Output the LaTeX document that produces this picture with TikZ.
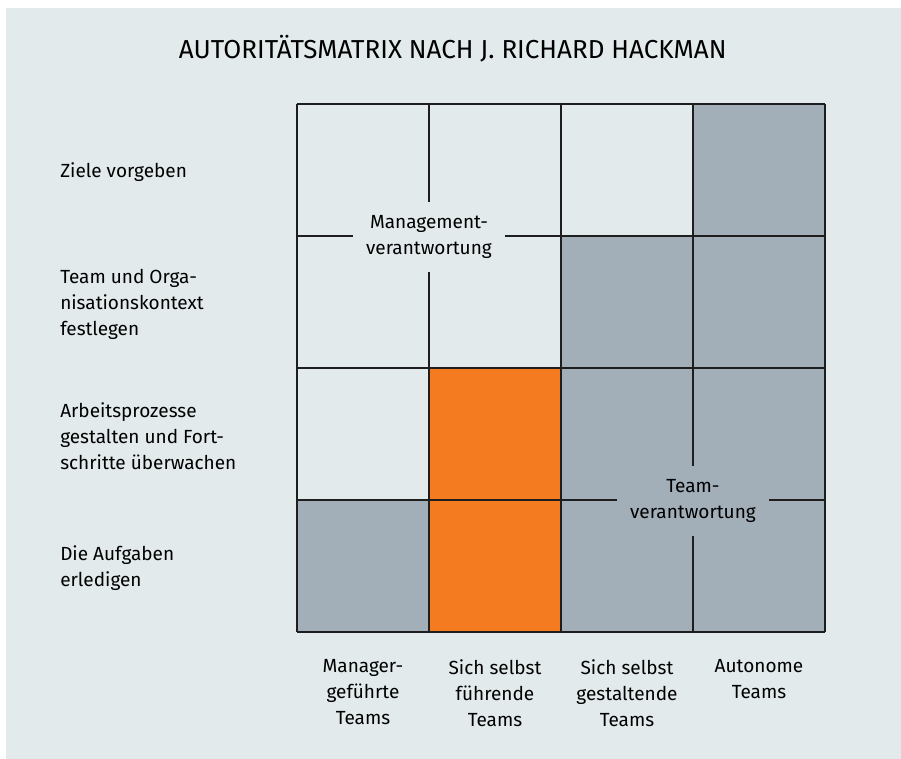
\documentclass[tikz,border=0pt]{standalone}
\usepackage{fontspec}
\setmainfont{Fira Sans}
\usetikzlibrary{positioning}
\definecolor{hkpanel}{RGB}{226, 234, 236}
\definecolor{hkgray}{RGB}{162, 174, 184}
\definecolor{hkorange}{RGB}{244, 123, 32}
\definecolor{hkline}{RGB}{30, 30, 30}
\tikzset{
    gridline/.style={draw=hkline, line width=1.5pt},
    titlelabel/.style={anchor=base, inner sep=0pt, font=\fontsize{26}{32}\selectfont},
    rowlabel/.style={anchor=west, align=left, inner sep=0pt, font=\fontsize{19}{26}\selectfont},
    collabel/.style={anchor=north, align=center, inner sep=0pt, font=\fontsize{19}{26}\selectfont},
    zonelabel/.style={align=center, inner sep=0pt, fill=#1, minimum width=152pt, minimum height=70pt, font=\fontsize{19}{26}\selectfont}
}

\begin{document}
\begin{tikzpicture}[x=132pt, y=132pt]
    \useasboundingbox (-2.25,-0.955) rectangle (4.576,4.788);
    \fill[hkpanel] (-2.205,-1.1) rectangle (4.7,4.727);

    % matrix cells, column/row counted from bottom left
    \foreach \c/\r in {3/3, 2/2, 3/2, 2/1, 3/1, 0/0, 2/0, 3/0}
        \fill[hkgray] (\c,\r) rectangle ++(1,1);
    \foreach \r in {0, 1}
        \fill[hkorange] (1,\r) rectangle ++(1,1);
    \draw[gridline] (0,0) grid[step=1] (4,4);

    \node[titlelabel] (title) at (1.18,4.341) {AUTORITÄTSMATRIX NACH J.~RICHARD HACKMAN};

    % zones on top of the grid lines
    \node[zonelabel=hkpanel] (mgmt) at (1,2.99) {Management-\\verantwortung};
    \node[zonelabel=hkgray] (team) at (3,0.99) {Team-\\verantwortung};

    % rows
    \node[rowlabel] (ziele) at (-1.795,3.485) {Ziele vorgeben};
    \node[rowlabel] (kontext) at (-1.795,2.485) {Team und Orga-\\nisationskontext\\festlegen};
    \node[rowlabel] (prozesse) at (-1.795,1.485) {Arbeitsprozesse\\gestalten und Fort-\\schritte überwachen};
    \node[rowlabel] (aufgaben) at (-1.795,0.485) {Die Aufgaben\\erledigen};

    % columns
    \node[collabel] (mgr) at (0.5,-0.205) {Manager-\\geführte\\Teams};
    \node[collabel] (fuehrend) at (1.5,-0.205) {Sich selbst\\führende\\Teams};
    \node[collabel] (gestaltend) at (2.5,-0.205) {Sich selbst\\gestaltende\\Teams};
    \node[collabel] (autonom) at (3.5,-0.205) {Autonome\\Teams};
\end{tikzpicture}
\end{document}
